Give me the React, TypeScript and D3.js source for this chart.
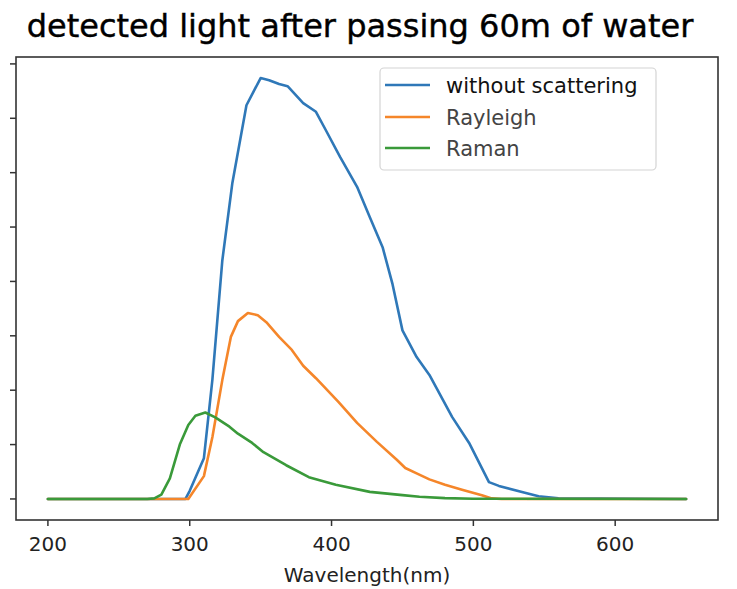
import React from "react";
import * as d3 from "d3";

// Wavelength (nm) / detected intensity (arbitrary units) pairs for each series
const withoutScattering: [number, number][] = [
  [200, 0], [297, 0], [300, 0.15], [310, 0.75], [316, 2.2], [323, 4.39], [330, 5.8],
  [340, 7.24], [350, 7.74], [356, 7.7], [363, 7.63], [369, 7.59], [380, 7.28],
  [389, 7.12], [396, 6.78], [406, 6.29], [418, 5.74], [427, 5.18],
  [436, 4.63], [443, 3.95], [450, 3.1], [460, 2.61], [469, 2.28], [485, 1.51],
  [497, 1.03], [511, 0.31], [518, 0.24], [537, 0.11], [546, 0.05], [560, 0.01],
  [650, 0],
];

const rayleigh: [number, number][] = [
  [200, 0], [299, 0], [310, 0.42], [316, 1.14], [323, 2.19], [329, 2.98], [334, 3.27],
  [341, 3.42], [348, 3.38], [354, 3.25], [363, 2.98], [372, 2.74], [380, 2.45],
  [389, 2.22], [405, 1.78], [418, 1.4], [432, 1.05], [446, 0.72], [452, 0.57],
  [460, 0.47], [469, 0.36], [480, 0.26], [492, 0.17], [506, 0.07], [513, 0.01],
  [520, 0], [650, 0],
];

const raman: [number, number][] = [
  [200, 0], [270, 0], [275, 0.01], [280, 0.08], [286, 0.38], [293, 1.0], [299, 1.36],
  [304, 1.53], [311, 1.59], [318, 1.5], [328, 1.33], [334, 1.2], [344, 1.03],
  [352, 0.86], [356, 0.8], [368, 0.62], [384, 0.4], [403, 0.26], [427, 0.13],
  [450, 0.07], [462, 0.04], [480, 0.015], [500, 0.005], [650, 0],
];

const seriesNames = ["without scattering", "Rayleigh", "Raman"];
const seriesColors = ["#2f78b8", "#f5862a", "#3a9a3a"];
const seriesData = [withoutScattering, rayleigh, raman];

const xTicks = [200, 300, 400, 500, 600];
const yTicks = [0, 1, 2, 3, 4, 5, 6, 7, 8];

const titleText = "detected light after passing 60m of water";
const xLabel = "Wavelength(nm)";

const W = 737;
const H = 589;
const plot = { left: 16, right: 718, top: 57, bottom: 520 };

export default function App() {
  const all = seriesData.flat();
  const xMin = d3.min(all, (d) => d[0])!;
  const xMax = d3.max(all, (d) => d[0])!;
  const yMin = d3.min(all, (d) => d[1])!;
  const yMax = d3.max(all, (d) => d[1])!;
  const xPad = (xMax - xMin) * 0.05;
  const yPad = (yMax - yMin) * 0.05;

  const x = d3.scaleLinear().domain([xMin - xPad, xMax + xPad]).range([plot.left, plot.right]);
  const y = d3.scaleLinear().domain([yMin - yPad, yMax + yPad]).range([plot.bottom, plot.top]);

  const line = d3
    .line<[number, number]>()
    .x((d) => x(d[0]))
    .y((d) => y(d[1]));

  const font = "'DejaVu Sans', Verdana, sans-serif";
  const legend = { x: 380, y: 68, w: 276, h: 102 };
  const rowY = [85, 117, 148];
  const legendTextColors = ["#111", "#444", "#444"];

  return (
    <svg
      width={W}
      height={H}
      style={{ position: "absolute", left: 0, top: 0, background: "#fff" }}
      fontFamily={font}
    >
      <text
        x={360}
        y={37}
        textAnchor="middle"
        fontSize={32}
        fill="#000"
        stroke="#000"
        strokeWidth={0.4}
      >
        {titleText}
      </text>

      <defs>
        <clipPath id="plotClip">
          <rect x={plot.left} y={plot.top} width={plot.right - plot.left} height={plot.bottom - plot.top} />
        </clipPath>
      </defs>
      <g clipPath="url(#plotClip)">
        {seriesData.map((s, i) => (
          <path
            key={seriesNames[i]}
            d={line(s) ?? ""}
            fill="none"
            stroke={seriesColors[i]}
            strokeWidth={2.6}
            strokeLinejoin="round"
            strokeLinecap="round"
          />
        ))}
      </g>

      {/* y ticks (unlabelled) */}
      {yTicks.map((t) => (
        <line key={`y${t}`} x1={plot.left - 6} x2={plot.left} y1={y(t)} y2={y(t)} stroke="#333" strokeWidth={1.5} />
      ))}

      {/* x ticks and labels */}
      {xTicks.map((t) => (
        <g key={`x${t}`}>
          <line x1={x(t)} x2={x(t)} y1={plot.bottom} y2={plot.bottom + 6} stroke="#333" strokeWidth={1.5} />
          <text x={x(t)} y={551} textAnchor="middle" fontSize={20} fill="#222">
            {t}
          </text>
        </g>
      ))}

      <text x={367} y={582} textAnchor="middle" fontSize={20} fill="#222">
        {xLabel}
      </text>

      {/* frame */}
      <rect
        x={plot.left}
        y={plot.top}
        width={plot.right - plot.left}
        height={plot.bottom - plot.top}
        fill="none"
        stroke="#333"
        strokeWidth={1.6}
      />

      {/* legend */}
      <rect
        x={legend.x}
        y={legend.y}
        width={legend.w}
        height={legend.h}
        rx={4}
        fill="#fff"
        fillOpacity={0.85}
        stroke="#d4d4d4"
        strokeWidth={1.2}
      />
      {seriesNames.map((n, i) => (
        <g key={`leg${n}`}>
          <line x1={385} x2={430} y1={rowY[i]} y2={rowY[i]} stroke={seriesColors[i]} strokeWidth={2.6} />
          <text x={446} y={rowY[i]} dy="0.36em" fontSize={21} fill={legendTextColors[i]}>
            {n}
          </text>
        </g>
      ))}
    </svg>
  );
}
